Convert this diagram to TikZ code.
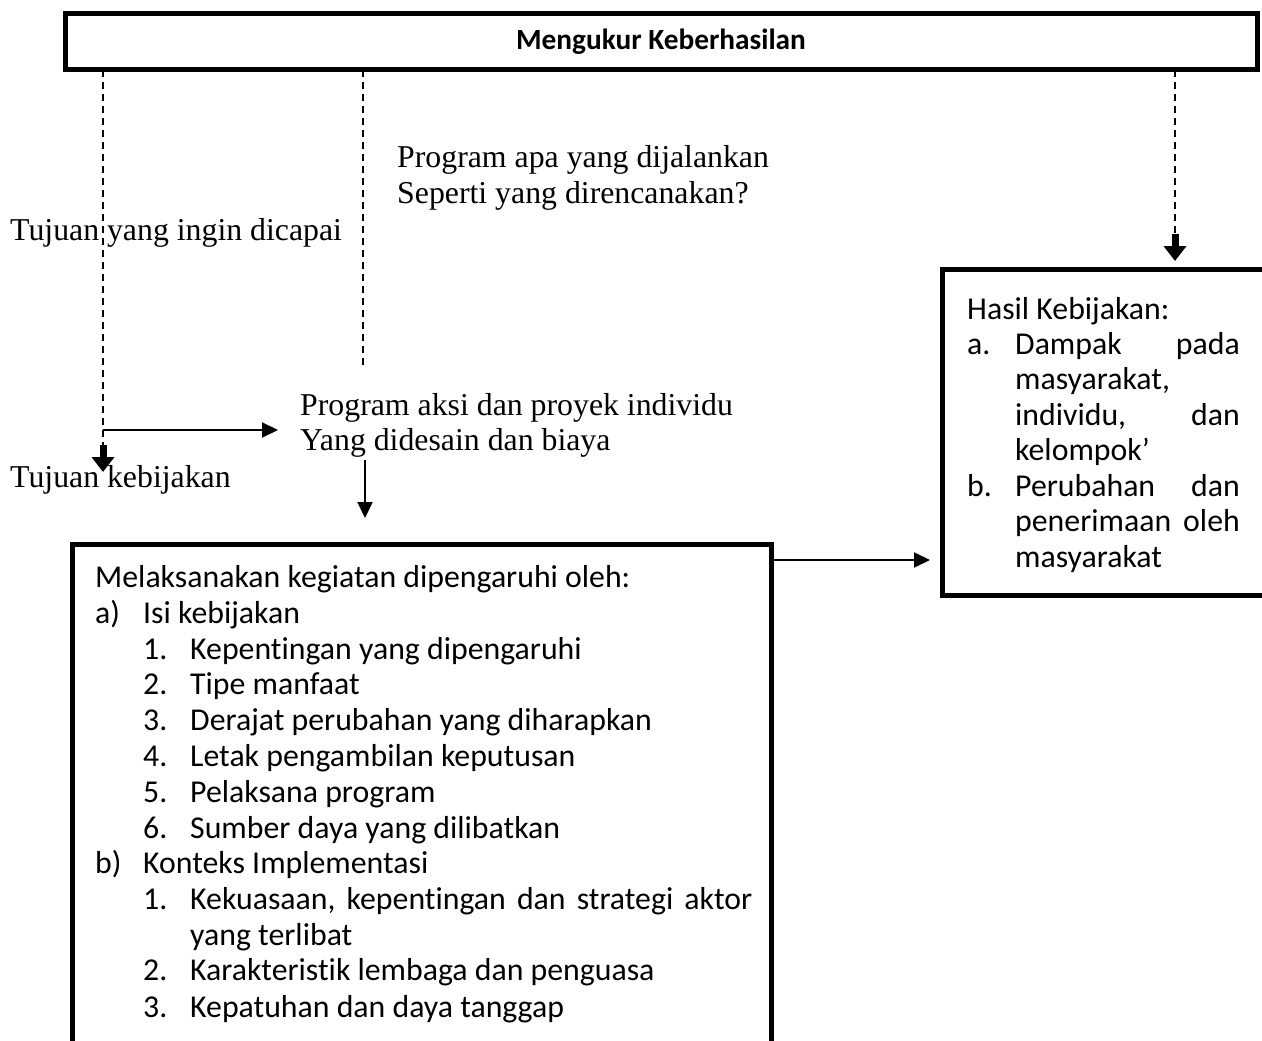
\documentclass[tikz,border=0pt]{standalone}
\usepackage{fontspec}
\setmainfont{Liberation Serif}
\newfontfamily\calib[Ligatures=NoCommon]{Carlito}
\usetikzlibrary{arrows.meta}
\begin{document}
\begin{tikzpicture}[x=1pt,y=-1pt,
  frame/.style={draw,line width=5pt,inner sep=0pt,outer sep=0pt},
  tnr/.style={inner sep=0pt,font=\fontsize{31.8}{36}\selectfont,anchor=base west},
  cal/.style={inner sep=0pt,font=\calib\fontsize{31.8}{36}\selectfont,anchor=base west},
  calr/.style={inner sep=0pt,font=\calib\fontsize{31.8}{36}\selectfont,anchor=base east},
  dash line/.style={line width=1.3pt,dash pattern=on 7pt off 5pt},
  thin arrow/.style={line width=2pt,-{Triangle[width=15pt,length=16pt]}},
  fat arrow/.style={line width=7pt,-{Triangle[width=22pt,length=15pt]}}]
\clip (0,0) rectangle (1262,1041);
\fill[white] (0,0) rectangle (1262,1041);
% boxes
\node[frame,minimum width=1192pt,minimum height=56pt] (top) at (661,42) {};
\node[inner sep=0pt,font=\calib\bfseries\fontsize{29.3}{34}\selectfont] (title) at (661,42) {Mengukur Keberhasilan};
\node[frame,minimum width=699pt,minimum height=536pt] (impl) at (421.5,812) {};
\node[frame,minimum width=338pt,minimum height=326pt] (hasil) at (1111,432) {};
% free texts
\node[tnr] (q1) at (397,167) {Program apa yang dijalankan};
\node[tnr] (q2) at (397,203) {Seperti yang direncanakan?};
\node[tnr] (tyic) at (10,240) {Tujuan yang ingin dicapai};
\node[tnr] (pa1) at (300,415) {Program aksi dan proyek individu};
\node[tnr] (pa2) at (300,450) {Yang didesain dan biaya};
\node[tnr] (tk) at (10,487) {Tujuan kebijakan};
% connectors
\coordinate (lEnd) at (103,472);
\coordinate (mEnd) at (363,368);
\coordinate (rEnd) at (1175,261);
\coordinate (hStart) at (103,430);
\coordinate (hEnd) at (278,430);
\coordinate (dStart) at (365,460);
\coordinate (dEnd) at (365,518);
\coordinate (oStart) at (impl.north east |- 0,560);
\coordinate (oEnd) at (930,560);
\draw[dash line] (top.south -| lEnd) -- ([yshift=24pt]lEnd);
\draw[fat arrow] ([yshift=27pt]lEnd) -- (lEnd);
\draw[dash line] (top.south -| mEnd) -- (mEnd);
\draw[dash line] (top.south -| rEnd) -- ([yshift=24pt]rEnd);
\draw[fat arrow] ([yshift=27pt]rEnd) -- (rEnd);
\draw[thin arrow] (hStart) -- (hEnd);
\draw[thin arrow] (dStart) -- (dEnd);
\draw[thin arrow] (oStart) -- (oEnd);
% right box text
\node[cal] (h0) at (967,319) {Hasil Kebijakan:};
\node[cal] (ha) at (967,354) {a.};
\node[cal] (ha1) at (1015,354) {Dampak};
\node[calr] (ha1r) at (1240,354) {pada};
\node[cal] (ha2) at (1015,389) {masyarakat,};
\node[cal] (ha3) at (1015,425) {individu,};
\node[calr] (ha3r) at (1240,425) {dan};
\node[cal] (ha4) at (1015,460) {kelompok’};
\node[cal] (hb) at (967,496) {b.};
\node[cal] (hb1) at (1015,496) {Perubahan};
\node[calr] (hb1r) at (1240,496) {dan};
\node[cal] (hb2) at (1015,531) {penerimaan};
\node[calr] (hb2r) at (1240,531) {oleh};
\node[cal] (hb3) at (1015,567) {masyarakat};
% bottom box text
\node[cal] (m0) at (95,587) {Melaksanakan kegiatan dipengaruhi oleh:};
\node[cal] (ma) at (95,623) {a)};
\node[cal] (mat) at (143,623) {Isi kebijakan};
\node[cal] (m1n) at (143,659) {1.}; \node[cal] (m1) at (190,659) {Kepentingan yang dipengaruhi};
\node[cal] (m2n) at (143,694) {2.}; \node[cal] (m2) at (190,694) {Tipe manfaat};
\node[cal] (m3n) at (143,730) {3.}; \node[cal] (m3) at (190,730) {Derajat perubahan yang diharapkan};
\node[cal] (m4n) at (143,766) {4.}; \node[cal] (m4) at (190,766) {Letak pengambilan keputusan};
\node[cal] (m5n) at (143,802) {5.}; \node[cal] (m5) at (190,802) {Pelaksana program};
\node[cal] (m6n) at (143,838) {6.}; \node[cal] (m6) at (190,838) {Sumber daya yang dilibatkan};
\node[cal] (mb) at (95,873) {b)};
\node[cal] (mbt) at (143,873) {Konteks Implementasi};
\node[cal] (k1n) at (143,909) {1.}; \node[cal] (k1) at (190,909) {\hbox to 562pt{Kekuasaan,\hfil kepentingan\hfil dan\hfil strategi\hfil aktor}};
\node[cal] (k1b) at (190,945) {yang terlibat};
\node[cal] (k2n) at (143,980) {2.}; \node[cal] (k2) at (190,980) {Karakteristik lembaga dan penguasa};
\node[cal] (k3n) at (143,1017) {3.}; \node[cal] (k3) at (190,1017) {Kepatuhan dan daya tanggap};
\end{tikzpicture}
\end{document}
